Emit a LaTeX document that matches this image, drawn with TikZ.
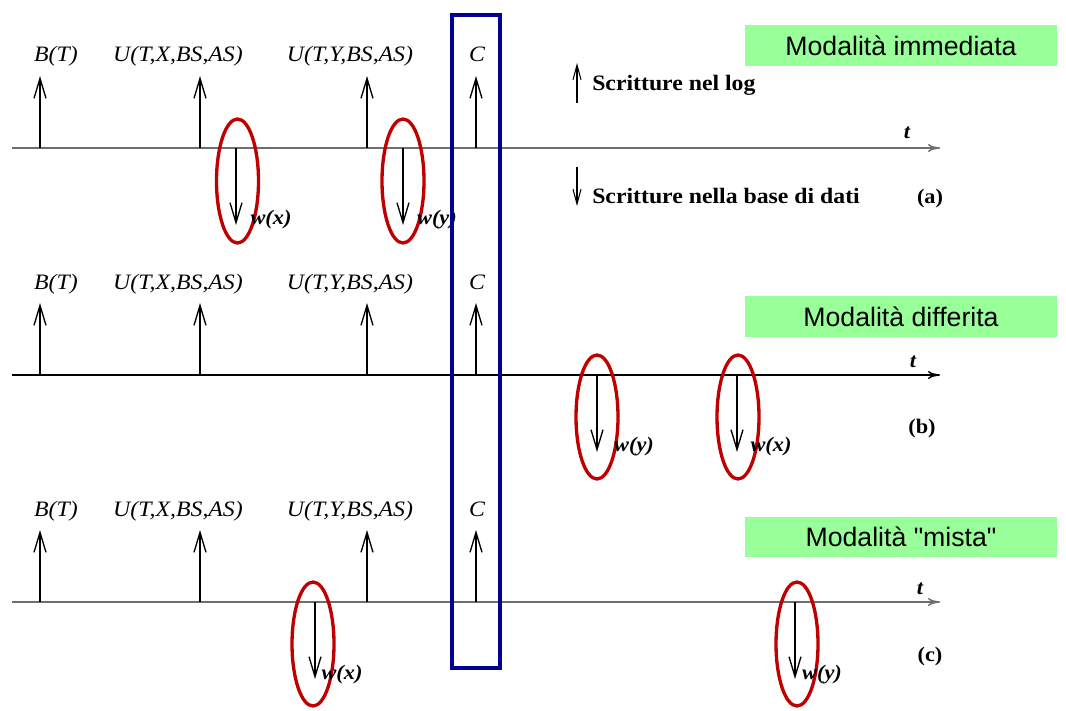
\documentclass[tikz,border=0pt]{standalone}
\usepackage{fontspec}
\setmainfont{Liberation Serif}
\newfontfamily\arialfont{Liberation Sans}
\usetikzlibrary{arrows.meta,shapes.geometric}
\definecolor{boxgreen}{RGB}{153,255,153}
\definecolor{ellred}{RGB}{192,0,0}
\definecolor{barblue}{RGB}{0,0,150}
\definecolor{axisgray}{RGB}{110,110,110}
\newcommand{\hs}[1]{\scalebox{1.08}[1]{#1}}
\begin{document}
\begin{tikzpicture}[x=0.75pt,y=-0.75pt,
  lbl/.style={inner sep=0pt, anchor=base, font=\fontsize{16.5}{19}\selectfont\itshape},
  wlbl/.style={inner sep=0pt, anchor=base, font=\fontsize{15.5}{18}\selectfont\bfseries\itshape},
  tlbl/.style={inner sep=0pt, font=\fontsize{15.5}{18}\selectfont\bfseries\itshape},
  leg/.style={inner sep=0pt, anchor=base west, font=\fontsize{16.5}{19}\selectfont\bfseries},
  tag/.style={inner sep=0pt, anchor=base, font=\fontsize{15.5}{18}\selectfont\bfseries},
  axisline/.style={line width=1.1pt, -{To[length=9pt,width=6pt]}},
  logarrow/.style={line width=1pt, -{Straight Barb[length=15pt,width=9pt]}},
  legarrow/.style={line width=0.8pt, -{Straight Barb[length=11pt,width=6pt]}},
  ell/.style={ellipse, draw=ellred, line width=2.5pt, inner sep=0pt,
    minimum width=31.5pt, minimum height=93pt},
  modebox/.style={rectangle, fill=boxgreen, inner sep=0pt,
    minimum width=234pt, minimum height=30.5pt,
    font=\arialfont\fontsize{20}{24}\selectfont},
  commitbox/.style={rectangle, draw=barblue, line width=2.6pt, inner sep=0pt,
    minimum width=36pt, minimum height=489.75pt}
]
\useasboundingbox[fill=white] (0,0) rectangle (1066,710);

% ---------- three rows ----------
\foreach \r/\dy/\ax in {a/0/axisgray,b/227/black,c/454/axisgray}{
  % axis
  \coordinate (\r-s) at (12,148+\dy);
  \coordinate (\r-e) at (940,148+\dy);
  \draw[axisline, draw=\ax] (\r-s) -- (\r-e);
  % log records labels
  \node[lbl] (\r-B) at (56,62+\dy) {\hs{B(T)}};
  \node[lbl] (\r-UX) at (178,62+\dy) {\hs{U(T,X,BS,AS)}};
  \node[lbl] (\r-UY) at (350,62+\dy) {\hs{U(T,Y,BS,AS)}};
  \node[lbl] (\r-C) at (477,62+\dy) {\hs{C}};
  % log arrows
  \foreach \n/\x in {B/40,UX/200,UY/367,C/476}{
    \coordinate (\r-\n-foot) at (\x,148+\dy);
    \coordinate (\r-\n-tip) at (\x,76+\dy);
    \draw[logarrow] (\r-\n-foot) -- (\r-\n-tip);
  }
}
\node[tlbl] (a-t) at (907,133) {\hs{t}};
\node[tlbl] (b-t) at (913,362) {\hs{t}};
\node[tlbl] (c-t) at (920,589) {\hs{t}};

% ---------- database writes ----------
% (a)
\coordinate (a-wx-top) at (236,148); \coordinate (a-wx-bot) at (236,225);
\coordinate (a-wy-top) at (403,148); \coordinate (a-wy-bot) at (403,225);
\draw[logarrow] (a-wx-top) -- (a-wx-bot);
\draw[logarrow] (a-wy-top) -- (a-wy-bot);
\node[ell] (a-ex) at (237.5,181) {};
\node[ell] (a-ey) at (403,181) {};
\node[wlbl] (a-lx) at (271,224) {\hs{w(x)}};
\node[wlbl] (a-ly) at (437,224) {\hs{w(y)}};
% (b)
\coordinate (b-wy-top) at (597,375); \coordinate (b-wy-bot) at (597,452);
\coordinate (b-wx-top) at (737,375); \coordinate (b-wx-bot) at (737,452);
\draw[logarrow] (b-wy-top) -- (b-wy-bot);
\draw[logarrow] (b-wx-top) -- (b-wx-bot);
\node[ell] (b-ey) at (597,417) {};
\node[ell] (b-ex) at (738,417) {};
\node[wlbl] (b-ly) at (634,451) {\hs{w(y)}};
\node[wlbl] (b-lx) at (771,451) {\hs{w(x)}};
% (c)
\coordinate (c-wx-top) at (315,602); \coordinate (c-wx-bot) at (315,679);
\coordinate (c-wy-top) at (795,602); \coordinate (c-wy-bot) at (795,679);
\draw[logarrow] (c-wx-top) -- (c-wx-bot);
\draw[logarrow] (c-wy-top) -- (c-wy-bot);
\node[ell] (c-ex) at (313,644) {};
\node[ell] (c-ey) at (797,644) {};
\node[wlbl] (c-lx) at (342,679) {\hs{w(x)}};
\node[wlbl] (c-ly) at (822,679) {\hs{w(y)}};

% ---------- legend ----------
\coordinate (leg-up-s) at (577,103); \coordinate (leg-up-e) at (577,63);
\coordinate (leg-dn-s) at (577,167); \coordinate (leg-dn-e) at (577,206);
\draw[legarrow] (leg-up-s) -- (leg-up-e);
\draw[legarrow] (leg-dn-s) -- (leg-dn-e);
\node[leg] (leg-log) at (592,90) {\hs{Scritture nel log}};
\node[leg] (leg-db) at (592,203) {\hs{Scritture nella base di dati}};

\node[tag] (tag-a) at (930,203) {\hs{(a)}};
\node[tag] (tag-b) at (922,433) {\hs{(b)}};
\node[tag] (tag-c) at (930,661) {\hs{(c)}};

% ---------- mode boxes ----------
\node[modebox] (mode-a) at (901,45.5) {Modalità immediata};
\node[modebox] (mode-b) at (901,316.5) {Modalità differita};
\node[modebox] (mode-c) at (901,537) {Modalità "mista"};

% ---------- commit bar ----------
\node[commitbox] (commit) at (476,341.5) {};
\end{tikzpicture}
\end{document}
